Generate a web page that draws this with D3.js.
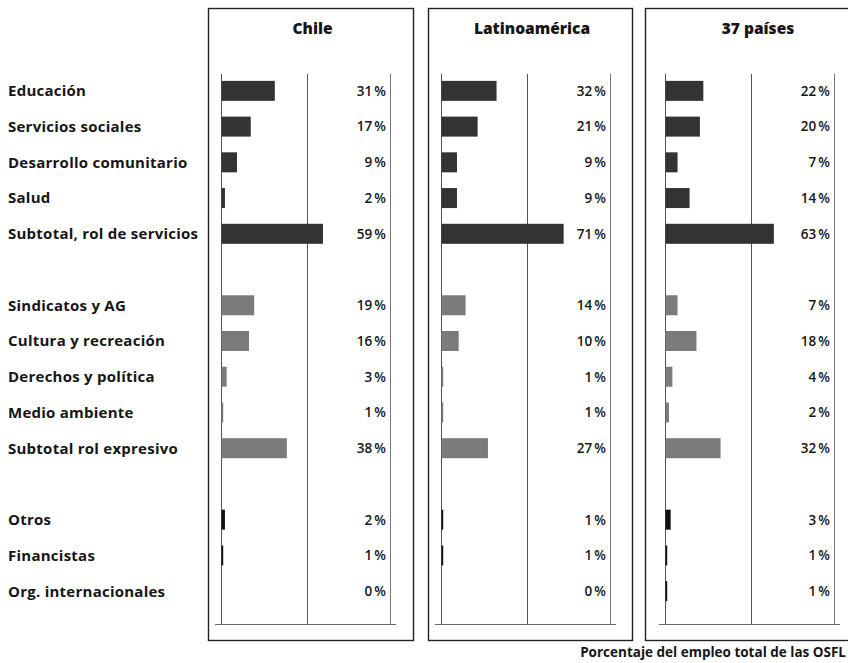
<!DOCTYPE html>
<html lang="es">
<head>
<meta charset="utf-8">
<script src="https://cdn.jsdelivr.net/npm/d3@7/dist/d3.min.js"></script>
<style>
  html, body { margin: 0; padding: 0; background: #fff; }
  svg { display: block; }
  text { font-family: "Open Sans", "Noto Sans", sans-serif; fill: #161616; }
</style>
</head>
<body>
<svg id="chart" width="848" height="663"></svg>
<script>
// Categories, in row order; null marks an empty separator row
const categories = [
  "Educación", "Servicios sociales", "Desarrollo comunitario", "Salud",
  "Subtotal, rol de servicios", null,
  "Sindicatos y AG", "Cultura y recreación", "Derechos y política",
  "Medio ambiente", "Subtotal rol expresivo", null,
  "Otros", "Financistas", "Org. internacionales"
];
// Group of each row: servicios, expresivo, otros
const groups = [
  "serv", "serv", "serv", "serv", "serv", null,
  "expr", "expr", "expr", "expr", "expr", null,
  "otro", "otro", "otro"
];
const regions = ["Chile", "Latinoamérica", "37 países"];
// Share of total nonprofit employment (%)
const chile    = [31, 17, 9, 2, 59, null, 19, 16, 3, 1, 38, null, 2, 1, 0];
const latam    = [32, 21, 9, 9, 71, null, 14, 10, 1, 1, 27, null, 1, 1, 0];
const paises37 = [22, 20, 7, 14, 63, null, 7, 18, 4, 2, 32, null, 3, 1, 1];
const seriesValues = [chile, latam, paises37];
const gridTicks = [0, 50];
const footnote = "Porcentaje del empleo total de las OSFL";

const colors = { serv: "#333333", expr: "#7b7b7b", otro: "#111111" };

const svg = d3.select("#chart");

// Panel geometry: x of the zero line and of the surrounding box
const panels = [
  { zero: 221, boxLeft: 208, boxRight: 413 },
  { zero: 441, boxLeft: 428, boxRight: 632 },
  { zero: 665, boxLeft: 645, boxRight: 852 }
];
const innerW = 169;
const plotTop = 74, plotBottom = 624;

const rowKeys = categories.map((c, i) => "r" + i);
const y = d3.scaleBand().domain(rowKeys).range([73, 609]).paddingInner(0.44).paddingOuter(0.22);
const x = d3.scaleLinear().domain([0, 100]).range([0, 172]);

// Row labels
svg.append("g").selectAll("text")
  .data(categories.map((c, i) => ({ c, k: rowKeys[i] })).filter(d => d.c))
  .join("text")
  .attr("x", 8)
  .attr("y", d => y(d.k) + y.bandwidth() / 2)
  .attr("dy", "0.36em")
  .style("font-size", "15px")
  .style("font-weight", 700)
  .style("letter-spacing", "0.25px")
  .text(d => d.c);

panels.forEach((p, pi) => {
  const g = svg.append("g").attr("transform", `translate(${p.zero},0)`);
  const vals = seriesValues[pi];

  // Box
  svg.append("rect")
    .attr("x", p.boxLeft + 0.5).attr("y", 8.5)
    .attr("width", p.boxRight - p.boxLeft).attr("height", 632)
    .attr("fill", "none").attr("stroke", "#222").attr("stroke-width", 1.4);

  // Title
  svg.append("text")
    .attr("x", pi === 2 ? 758 : (p.boxLeft + p.boxRight) / 2 + 2)
    .attr("y", 34)
    .attr("text-anchor", "middle")
    .style("font-size", "15.5px")
    .style("font-weight", 800)
    .text(regions[pi]);

  // Grid / frame lines
  g.selectAll("line.grid")
    .data(gridTicks)
    .join("line")
    .attr("class", "grid")
    .attr("x1", d => Math.round(x(d)) + 0.5).attr("x2", d => Math.round(x(d)) + 0.5)
    .attr("y1", plotTop).attr("y2", plotBottom)
    .attr("stroke", "#555").attr("stroke-width", 1);
  g.append("line")
    .attr("x1", innerW + 0.5).attr("x2", innerW + 0.5)
    .attr("y1", plotTop).attr("y2", plotBottom)
    .attr("stroke", "#777").attr("stroke-width", 1);
  g.append("line")
    .attr("x1", -6).attr("x2", innerW + 6)
    .attr("y1", plotBottom + 0.5).attr("y2", plotBottom + 0.5)
    .attr("stroke", "#666").attr("stroke-width", 1);

  const rows = vals.map((v, i) => ({ v, k: rowKeys[i], grp: groups[i] })).filter(d => d.v !== null);

  // Bars
  g.selectAll("rect.bar")
    .data(rows)
    .join("rect")
    .attr("class", "bar")
    .attr("x", 0.5)
    .attr("y", d => y(d.k))
    .attr("width", d => x(d.v))
    .attr("height", y.bandwidth())
    .attr("fill", d => colors[d.grp]);

  // Value labels
  g.selectAll("text.val")
    .data(rows)
    .join("text")
    .attr("class", "val")
    .attr("x", innerW - 4)
    .attr("y", d => y(d.k) + y.bandwidth() / 2)
    .attr("dy", "0.36em")
    .attr("text-anchor", "end")
    .style("font-size", "13.5px")
    .style("font-weight", 600)
    .text(d => d.v + "\u2009%");
});

// Footnote
svg.append("text")
  .attr("x", 846).attr("y", 657)
  .attr("text-anchor", "end")
  .style("font-size", "13.5px")
  .style("font-weight", 700)
  .text(footnote);
</script>
</body>
</html>
